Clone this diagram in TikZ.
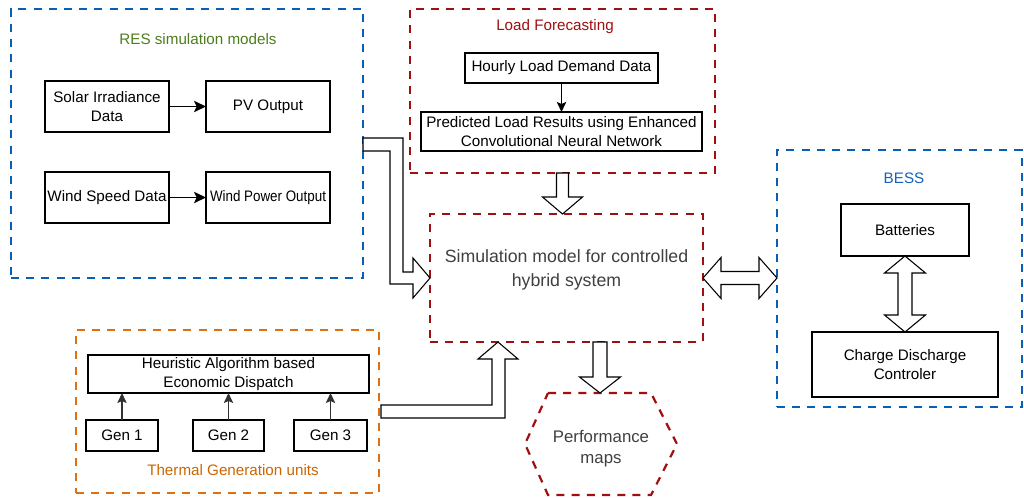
\documentclass[tikz,border=0pt]{standalone}
\usepackage{fontspec}
\setmainfont{Liberation Sans}
\usepackage{graphicx}
\usetikzlibrary{arrows.meta,calc}
\definecolor{resblue}{RGB}{10,94,184}
\definecolor{resgreen}{RGB}{77,126,28}
\definecolor{loadred}{RGB}{160,16,16}
\definecolor{thermorange}{RGB}{220,112,22}
\definecolor{thermtext}{RGB}{204,102,0}
\definecolor{besstext}{RGB}{20,100,190}
\definecolor{simgray}{RGB}{64,64,64}
\definecolor{arrgray}{RGB}{50,50,50}
\begin{document}
\begin{tikzpicture}[x=0.75pt,y=-0.75pt,
  every node/.style={font=\fontsize{11.4}{14.3}\selectfont, text=black},
  sz/.style 2 args={minimum width=#1*0.75pt, minimum height=#2*0.75pt},
  box/.style={draw=black, line width=0.8pt, inner sep=0pt, outer sep=0pt, align=center},
  group/.style={line width=1.65pt, dash pattern=on 6pt off 5.4pt, inner sep=0pt, outer sep=0pt},
  arr/.style={-{Stealth[length=9pt,width=8.5pt,inset=2pt]}, line width=1.1pt},
  genarr/.style={-{Stealth[length=7.5pt,width=7pt,inset=1.5pt]}, line width=0.9pt, draw=arrgray},
  blockarrow/.style={draw=black, line width=0.8pt, fill=white, line join=miter}]
\fill[white] (0,0) rectangle (1024,497);
\useasboundingbox (0,0) rectangle (1024,497);

% ---------------- RES simulation models ----------------
\node[group, draw=resblue, sz={352}{269}] (res) at (187,143.5) {};
\node[text=resgreen] (restitle) at (198,39) {RES simulation models};
\node[box, sz={124}{51}] (solar) at (107,106.5) {Solar Irradiance\\Data};
\node[box, sz={124}{51}] (pv) at (268,106.5) {PV Output};
\node[box, sz={124}{51}] (wind) at (107,197.5) {Wind Speed Data};
\node[box, sz={124}{51}] (windp) at (268,197.5) {\scalebox{0.88}[1]{Wind Power Output}};
\draw[arr] (solar) -- (pv);
\draw[arr] (wind) -- (windp);

% ---------------- Load Forecasting ----------------
\node[group, draw=loadred, sz={305}{164}] (load) at (562.5,91) {};
\node[text=loadred] (loadtitle) at (555,27) {Load Forecasting};
\node[box, sz={193}{30}] (hourly) at (561.5,68) {Hourly Load Demand Data};
\node[box, sz={281}{39}] (pred) at (561.5,131.5) {Predicted Load Results using Enhanced\\Convolutional Neural Network};
\draw[genarr, draw=black] (hourly) -- (pred);

% ---------------- Simulation model ----------------
\node[group, draw=loadred, sz={273}{128}] (sim) at (566.5,278) {};
\node[text=simgray, align=center, font=\fontsize{13.3}{18}\selectfont] (simlabel) at (566.5,270)
  {Simulation model for controlled\\hybrid system};

% ---------------- BESS ----------------
\node[group, draw=resblue, sz={245}{257}] (bess) at (899.5,278.5) {};
\node[text=besstext] (besstitle) at (904,178) {BESS};
\node[box, sz={128}{52}] (bat) at (905,230) {Batteries};
\node[box, sz={186}{65}] (ctrl) at (905,364.5) {Charge Discharge\\Controler};

% ---------------- Thermal Generation units ----------------
\node[group, draw=thermorange, sz={303}{163}] (thermal) at (227.5,411.5) {};
\node[text=thermtext] (thermtitle) at (233,470) {Thermal Generation units};
\node[box, sz={281}{38}] (heur) at (228.5,374) {Heuristic Algorithm based\\Economic Dispatch};
\node[box, sz={72}{31}] (gen1) at (122,435.5) {Gen 1};
\node[box, sz={71}{31}] (gen2) at (228.5,435.5) {Gen 2};
\node[box, sz={73}{31}] (gen3) at (330.5,435.5) {Gen 3};
\draw[genarr] (gen1) -- (gen1 |- heur.south);
\draw[genarr] (gen2) -- (gen2 |- heur.south);
\draw[genarr] (gen3) -- (gen3 |- heur.south);

% ---------------- Performance maps ----------------
\draw[group, draw=loadred] (548,393) -- (651,393) -- (677,444) -- (651,495) -- (548,495) -- (525,444) -- cycle;
\node[text=simgray, align=center, font=\fontsize{12.6}{15.8}\selectfont] (perf) at (601,449) {Performance\\maps};
\coordinate (perftop) at (600,393);

% ---------------- Block arrows ----------------
% RES -> simulation
\draw[blockarrow] (363,138) -- (403,138) -- (403,272) -- (413,272) -- (413,258)
  -- (sim.west) -- (413,298) -- (413,284) -- (390,284) -- (390,151) -- (363,151) -- cycle;
% Thermal -> simulation
\coordinate (tt) at (498,342);
\draw[blockarrow] (381,405) -- (492,405) -- (492,359) -- (478,359) -- (tt)
  -- (518,359) -- (505,359) -- (505,418) -- (381,418) -- cycle;
% Load forecasting -> simulation
\coordinate (ls) at (load.south);
\coordinate (lt) at (load.south |- sim.north);
\draw[blockarrow] ($(ls)+(-6,0)$) -- ($(lt)+(-6,-17)$) -- ($(lt)+(-20,-17)$) -- (lt)
  -- ($(lt)+(20,-17)$) -- ($(lt)+(6,-17)$) -- ($(ls)+(6,0)$) -- cycle;
% Simulation -> performance maps
\coordinate (ps) at (sim.south -| perftop);
\draw[blockarrow] ($(ps)+(-7,0)$) -- ($(perftop)+(-7,-16)$) -- ($(perftop)+(-20.5,-16)$) -- (perftop)
  -- ($(perftop)+(20.5,-16)$) -- ($(perftop)+(7,-16)$) -- ($(ps)+(7,0)$) -- cycle;
% Simulation <-> BESS
\coordinate (ha) at (sim.east);
\coordinate (hb) at (bess.west |- sim.east);
\draw[blockarrow] (ha) -- ($(ha)+(18,-20.5)$) -- ($(ha)+(18,-6.5)$) -- ($(hb)+(-18,-6.5)$) -- ($(hb)+(-18,-20.5)$)
  -- (hb) -- ($(hb)+(-18,20.5)$) -- ($(hb)+(-18,6.5)$) -- ($(ha)+(18,6.5)$) -- ($(ha)+(18,20.5)$) -- cycle;
% Batteries <-> Controller
\coordinate (va) at (bat.south);
\coordinate (vb) at (ctrl.north);
\draw[blockarrow] (va) -- ($(va)+(-20.5,17)$) -- ($(va)+(-7,17)$) -- ($(vb)+(-7,-17)$) -- ($(vb)+(-20.5,-17)$)
  -- (vb) -- ($(vb)+(20.5,-17)$) -- ($(vb)+(7,-17)$) -- ($(va)+(7,17)$) -- ($(va)+(20.5,17)$) -- cycle;
\end{tikzpicture}
\end{document}
